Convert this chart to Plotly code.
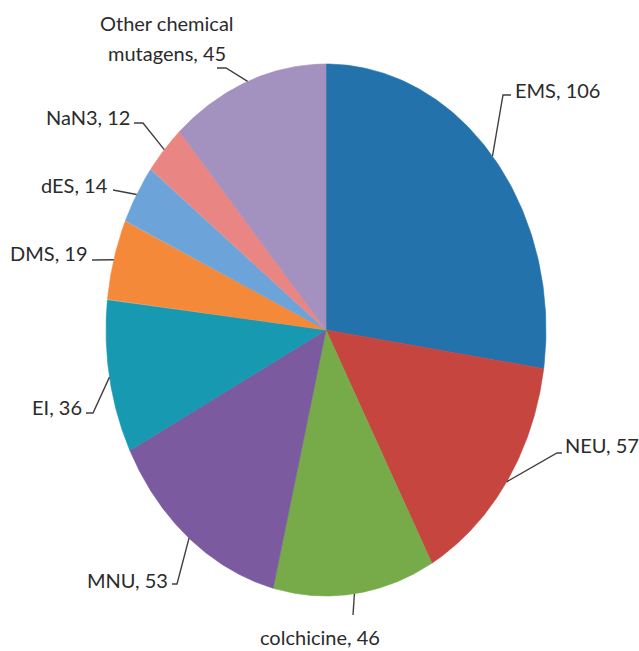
import numpy as np
import plotly.graph_objects as go

# ---- data (clockwise from 12 o'clock) ----
categories = ["EMS", "NEU", "colchicine", "MNU", "EI", "DMS", "dES", "NaN3",
              "Other chemical mutagens"]
values = [106, 57, 46, 53, 36, 19, 14, 12, 45]
colors = ["#2372AB", "#C6463F", "#77AA48", "#7B5AA0", "#1799B2",
          "#F5893A", "#6CA4DA", "#E98683", "#A391C0"]

# ---- layout constants (pixel space) ----
W, H = 639, 651
CX, CY, RX, RY = 326, 330, 220, 266
FONT = dict(family="Lato, 'Open Sans', sans-serif", size=20, color="#2b2b2b")
LINE = dict(color="#404040", width=1.4)

# label placement: (x, y, xanchor) and leader bend points after the edge point
label_pos = {
    "EMS": ((513, 90, "left"), [(503, 95), (511, 95)]),
    "NEU": ((563, 445, "left"), [(557, 453), (562, 453)]),
    "colchicine": ((320, 637, "center"), [(353, 615)]),
    "MNU": ((170, 580, "right"), [(177, 584), (172, 584)]),
    "EI": ((84, 407, "right"), [(93, 413), (86, 413)]),
    "DMS": ((90, 253, "right"), [(92, 260)]),
    "dES": ((110, 185, "right"), [(113, 190)]),
    "NaN3": ((132, 117, "right"), [(143, 123), (134, 123)]),
}

total = float(sum(values))
cum = np.concatenate([[0.0], np.cumsum(values)]) / total  # fractions


def ell(frac):
    a = 2 * np.pi * np.asarray(frac)
    return CX + RX * np.sin(a), CY - RY * np.cos(a)


fig = go.Figure()

for i, (cat, v) in enumerate(zip(categories, values)):
    f = np.linspace(cum[i], cum[i + 1], 120)
    ex, ey = ell(f)
    xs = np.concatenate([[CX], ex, [CX]])
    ys = np.concatenate([[CY], ey, [CY]])
    fig.add_trace(go.Scatter(
        x=xs, y=ys, mode="lines", fill="toself", fillcolor=colors[i],
        line=dict(color=colors[i], width=0.6), name=cat,
        hoverinfo="text", text=f"{cat}: {v}", showlegend=False))

annotations = []
for i, (cat, v) in enumerate(zip(categories, values)):
    mid = (cum[i] + cum[i + 1]) / 2
    mx, my = ell(mid)
    if cat in label_pos:
        (tx, ty, anc), bends = label_pos[cat]
        text = f"{cat}, {v}"
        annotations.append(dict(x=tx, y=ty, xref="x", yref="y", text=text,
                                showarrow=False, xanchor=anc, yanchor="middle",
                                font=FONT))
    else:
        bends = [(226, 68), (217, 68)]
        words = cat.rsplit(" ", 1)
        annotations.append(dict(x=167, y=23, xref="x", yref="y", text=words[0],
                                showarrow=False, xanchor="center", yanchor="middle",
                                font=FONT))
        annotations.append(dict(x=167, y=53, xref="x", yref="y",
                                text=f"{words[1]}, {v}",
                                showarrow=False, xanchor="center", yanchor="middle",
                                font=FONT))
    lx = [float(mx)] + [b[0] for b in bends]
    ly = [float(my)] + [b[1] for b in bends]
    fig.add_trace(go.Scatter(x=lx, y=ly, mode="lines", line=LINE,
                             hoverinfo="skip", showlegend=False))

fig.update_layout(
    width=W, height=H,
    margin=dict(l=0, r=0, t=0, b=0),
    paper_bgcolor="white", plot_bgcolor="white",
    xaxis=dict(range=[0, W], visible=False, fixedrange=True),
    yaxis=dict(range=[H, 0], visible=False, fixedrange=True),
    annotations=annotations,
    showlegend=False,
)

fig.write_html("out.html")
